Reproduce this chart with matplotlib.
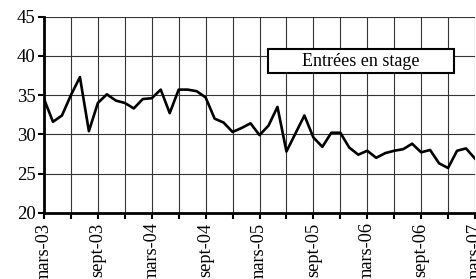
import matplotlib
matplotlib.use("Agg")
import matplotlib.pyplot as plt
from matplotlib.patches import Rectangle

# monthly values, mars-03 .. mars-07
values = [34.5, 31.6, 32.4, 35.0, 37.3, 30.4, 34.0, 35.1, 34.3, 34.0, 33.3, 34.5,
          34.6, 35.7, 32.7, 35.7, 35.7, 35.5, 34.7, 32.0, 31.5, 30.3, 30.8, 31.4,
          29.9, 31.1, 33.5, 27.8, 30.1, 32.4, 29.6, 28.4, 30.2, 30.2, 28.3, 27.4,
          27.9, 27.0, 27.6, 27.9, 28.1, 28.8, 27.7, 28.0, 26.3, 25.7, 27.9, 28.2, 26.9]
tick_labels = ["mars-03", "", "sept-03", "", "mars-04", "", "sept-04", "",
               "mars-05", "", "sept-05", "", "mars-06", "", "sept-06", "", "mars-07"]
y_ticks = [20, 25, 30, 35, 40, 45]
legend_text = "Entrées en stage"

plt.rcParams['font.family'] = ['Liberation Serif', 'DejaVu Serif']

fig = plt.figure(figsize=(4.76, 2.79), dpi=100)
ax = fig.add_axes([44 / 476, 1 - 212.7 / 279, 431 / 476, 196 / 279])

months = list(range(len(values)))
ax.plot(months, values, color="black", lw=1.9, zorder=3)

ax.set_xlim(0, len(values) - 1)
ax.set_ylim(20, 45)
ax.set_yticks(y_ticks)
ax.set_xticks(range(0, len(values), 3))
ax.set_xticklabels(tick_labels, rotation=90, fontsize=13.2)
ax.tick_params(axis="y", labelsize=13.5, direction="out", length=4, width=1.5, pad=2)
ax.tick_params(axis="x", direction="out", length=4, width=1.5, pad=3)

ax.grid(True, color="#333333", lw=0.8)
ax.set_axisbelow(True)
for s in ["top", "right"]:
    ax.spines[s].set_visible(False)
for s in ["left", "bottom"]:
    ax.spines[s].set_linewidth(2)

ax.add_patch(Rectangle((0.519, 0.711), 0.433, 0.124, transform=ax.transAxes,
                       facecolor="white", edgecolor="black", lw=1.5, zorder=4))
ax.text(0.735, 0.773, legend_text, transform=ax.transAxes, ha="center", va="center",
        fontsize=13, zorder=5)

fig.savefig("out.png", dpi=100)
